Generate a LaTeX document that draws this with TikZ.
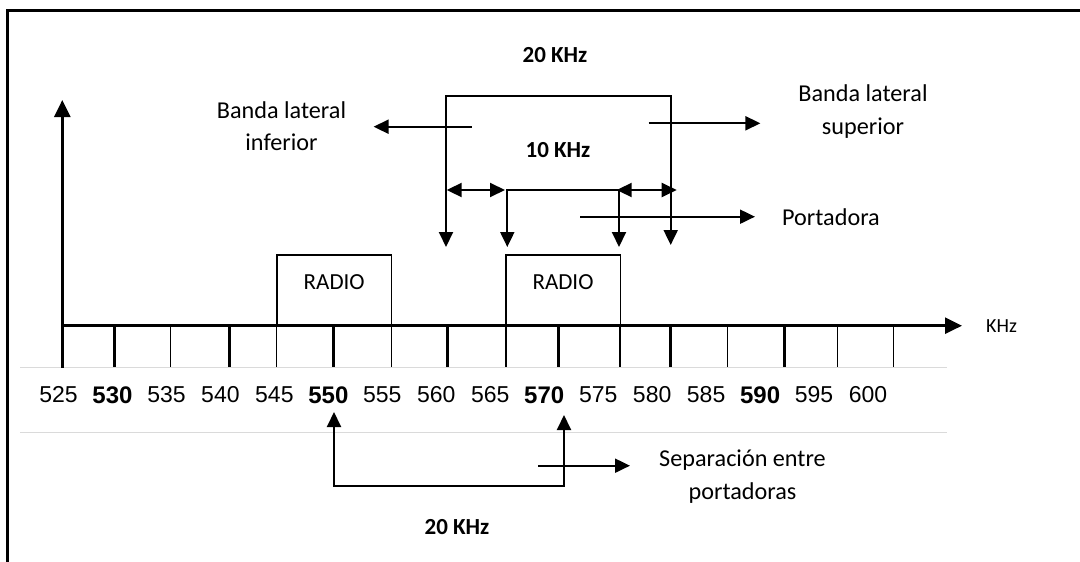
\documentclass[tikz,border=0pt]{standalone}
\usepackage{fontspec}
\setmainfont{Carlito}
\newfontfamily\numfont{Liberation Sans}
\usetikzlibrary{arrows.meta, positioning}
\definecolor{rulegray}{HTML}{DADADA}
\tikzset{
  frameline/.style = {line width=3pt},
  gridline/.style  = {draw=rulegray, line width=1pt},
  axisline/.style  = {-{Triangle[length=17pt, width=16pt]}, line width=2.5pt},
  tickthin/.style  = {line width=1.5pt},
  tickthick/.style = {line width=3pt},
  freqlbl/.style   = {font=\numfont\fontsize{23}{25}\selectfont, inner sep=0pt},
  freqbold/.style  = {font=\numfont\bfseries\fontsize{24}{26}\selectfont, inner sep=0pt},
  note/.style      = {font=\fontsize{24.2}{32.5}\selectfont, align=center, inner sep=0pt},
  bwlbl/.style     = {font=\bfseries\fontsize{23}{26}\selectfont, inner sep=0pt},
  unitlbl/.style   = {font=\fontsize{20}{22}\selectfont, inner sep=0pt},
  radiobox/.style  = {draw, line width=1.5pt, minimum width=114.5pt, minimum height=70pt,
                      text height=15pt, text depth=15pt, inner sep=0pt,
                      font=\fontsize{23}{25}\selectfont},
  flow/.style      = {-{Triangle[length=15pt, width=14pt]}, line width=2pt},
  twoway/.style    = {{Triangle[length=15pt, width=14pt]}-{Triangle[length=15pt, width=14pt]}, line width=2pt},
}
\begin{document}
\begin{tikzpicture}[x=1pt, y=-1pt]
  \useasboundingbox (0,0) rectangle (1080,562);
  % frame and table rules
  \draw[frameline] (7.6,562) -- (7.6,10.7) -- (1080,10.7);
  \draw[gridline] (20,367.3) -- (947,367.3);
  \draw[gridline] (20,432.3) -- (947,432.3);

  % axes
  \coordinate (org)  at (62.3,325.7);
  \coordinate (xtip) at (962,325.7);
  \coordinate (ytip) at (62.3,100);
  \coordinate (ybot) at (62.3,367.7);
  \draw[axisline] (org) -- (xtip);
  \draw[axisline] (ybot) -- (ytip);
  \node[unitlbl, right=24pt of xtip] (unit) {KHz};

  % ticks
  \foreach \f/\x/\s in {530/114.3/tickthick, 535/170.7/tickthin, 540/229/tickthick,
      545/276.7/tickthin, 550/333.3/tickthick, 555/391.7/tickthin, 560/447.3/tickthick,
      565/506/tickthin, 570/558.3/tickthick, 575/620/tickthin, 580/670.7/tickthick,
      585/727.7/tickthin, 590/784.3/tickthick, 595/837.3/tickthin, 600/893.3/tickthin}
  {
    \coordinate (t\f) at (\x,325.7);
    \draw[\s] (t\f) -- ++(0,41);
  }

  % frequency labels
  \foreach \f/\s [count=\i from 0] in {525/freqlbl, 530/freqbold, 535/freqlbl, 540/freqlbl,
      545/freqlbl, 550/freqbold, 555/freqlbl, 560/freqlbl, 565/freqlbl, 570/freqbold,
      575/freqlbl, 580/freqlbl, 585/freqlbl, 590/freqbold, 595/freqlbl, 600/freqlbl}
    \node[\s] (f\f) at (58.5+53.97*\i,395) {\f};

  % stations
  \node[radiobox, anchor=south] (radio1) at (334.2,325.7) {RADIO};
  \node[radiobox, anchor=south] (radio2) at (563,325.7)   {RADIO};

  % bandwidth brackets
  \coordinate (lo)    at (446,247);
  \coordinate (lotop) at (446,95.7);
  \coordinate (rotop) at (670.7,95.7);
  \coordinate (ro)    at (670.7,245);
  \draw[twoway] (lo) -- (lotop) -- (rotop) -- (ro);
  \coordinate (li)    at (507.3,247);
  \coordinate (litop) at (507.3,190);
  \coordinate (ritop) at (619,190);
  \coordinate (ri)    at (619,247);
  \draw[twoway] (li) -- (litop) -- (ritop) -- (ri);
  \coordinate (dl1) at (446.7,190);
  \coordinate (dl2) at (505,190);
  \coordinate (dr1) at (616.7,190);
  \coordinate (dr2) at (676.7,190);
  \draw[twoway] (dl1) -- (dl2);
  \draw[twoway] (dr1) -- (dr2);

  \node[bwlbl] (bw20) at (555,55)  {20 KHz};
  \node[bwlbl] (bw10) at (558,150) {10 KHz};

  % side notes
  \node[note] (lsb)  at (281.5,126)   {Banda lateral\\inferior};
  \node[note] (usb)  at (863,111.7)   {Banda lateral\\superior};
  \node[note] (port) at (831,216.7)   {Portadora};
  \coordinate (lsbfrom) at (471.8,126.7);
  \coordinate (lsbto)   at (373.6,126.7);
  \coordinate (usbfrom) at (648.5,123.3);
  \coordinate (usbto)   at (760.4,123.3);
  \coordinate (portfrom) at (580,216.7);
  \coordinate (portto)   at (755,216.7);
  \draw[flow] (lsbfrom) -- (lsbto);
  \draw[flow] (usbfrom) -- (usbto);
  \draw[flow] (portfrom) -- (portto);

  % carrier spacing
  \coordinate (c1)    at (334,412);
  \coordinate (c1bot) at (334,485.7);
  \coordinate (c2bot) at (564,485.7);
  \coordinate (c2)    at (564,415);
  \draw[twoway] (c1) -- (c1bot) -- (c2bot) -- (c2);
  \node[note]  (sep)   at (742.5,476.5) {Separación entre\\portadoras};
  \node[bwlbl] (sep20) at (457,527)     {20 KHz};
  \coordinate (sepfrom) at (538,465.7);
  \coordinate (septo)   at (630,465.7);
  \draw[flow] (sepfrom) -- (septo);
\end{tikzpicture}
\end{document}
